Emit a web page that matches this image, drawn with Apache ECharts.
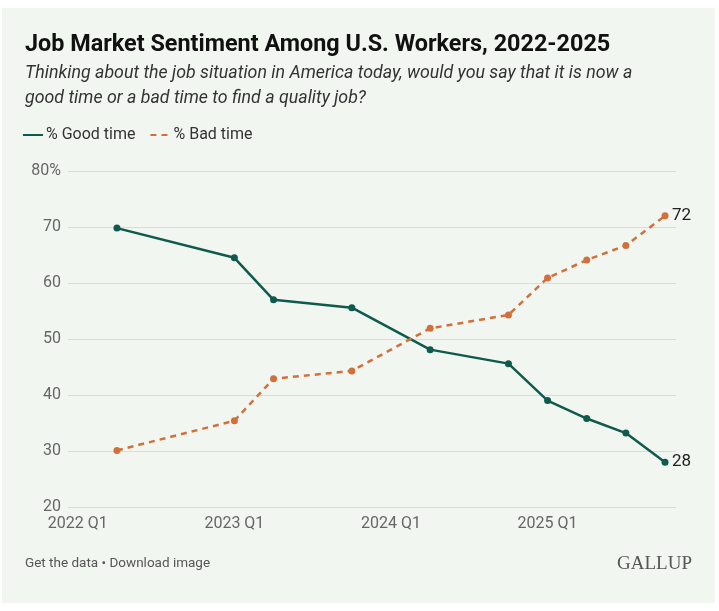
<!DOCTYPE html>
<html>
<head>
<meta charset="utf-8">
<script src="https://cdn.jsdelivr.net/npm/echarts@6/dist/echarts.min.js"></script>
<style>
html,body{margin:0;padding:0;background:#fff;}
#chart{width:719px;height:611px;}
</style>
</head>
<body>
<div id="chart"></div>
<script>
// Quarter labels for the survey points
var quarters = ["2022 Q2","2023 Q1","2023 Q2","2023 Q4","2024 Q2","2024 Q4","2025 Q1","2025 Q2","2025 Q3","2025 Q4"];
var goodTime = [69.8, 64.5, 57.0, 55.6, 48.1, 45.6, 39.0, 35.8, 33.2, 28];
var badTime  = [30.1, 35.4, 42.9, 44.3, 51.9, 54.3, 60.9, 64.1, 66.7, 72];
var xTickLabels = ["2022 Q1","2023 Q1","2024 Q1","2025 Q1"];
var yTicks = [20, 30, 40, 50, 60, 70, 80];

function qIndex(label){
  var p = label.split(" Q");
  return (parseInt(p[0],10) - 2022) * 4 + (parseInt(p[1],10) - 1);
}
var xTickValues = xTickLabels.map(qIndex);
function qLabel(v){
  var y = 2022 + Math.floor(v/4);
  var q = (v % 4) + 1;
  return y + " Q" + q;
}
function pairs(vals){
  return vals.map(function(v,i){ return [qIndex(quarters[i]), v]; });
}

var FONT = "Roboto";
var chart = echarts.init(document.getElementById('chart'));
chart.setOption({
  backgroundColor: '#ffffff',
  animation: false,
  textStyle: { fontFamily: FONT },
  graphic: [{
    type: 'rect', z: -10, silent: true,
    shape: { x: 2, y: 8, width: 713, height: 595 },
    style: { fill: '#f1f7f0' }
  }],
  title: [
    { text: 'Job Market Sentiment Among U.S. Workers, 2022-2025', left: 25, top: 34, padding: 0,
      textStyle: { fontFamily: FONT, fontSize: 23.4, fontWeight: 'bold', color: '#111' } },
    { text: 'Thinking about the job situation in America today, would you say that it is now a\ngood time or a bad time to find a quality job?', left: 25, top: 61, padding: 0,
      textStyle: { fontFamily: FONT, fontSize: 17.8, fontStyle: 'italic', fontWeight: 'normal', color: '#333', lineHeight: 25 } },
    { text: 'Get the data \u2022 Download image', left: 25, top: 557, padding: 0,
      textStyle: { fontFamily: FONT, fontSize: 13.5, fontWeight: 'normal', color: '#555' } },
    { text: 'GALLUP', right: 27, top: 555, padding: 0,
      textStyle: { fontFamily: 'Liberation Serif', fontSize: 19, fontWeight: 'normal', color: '#555' } }
  ],
  legend: {
    left: 17, top: 122,
    itemWidth: 20, itemHeight: 10, itemGap: 14,
    itemStyle: { opacity: 0 },
    textStyle: { fontFamily: FONT, fontSize: 16, color: '#333', padding: [0,0,0,-2] },
    data: ['% Good time', '% Bad time']
  },
  grid: { left: 68, right: 43, top: 171, bottom: 104, containLabel: false },
  xAxis: {
    type: 'value', min: -0.25, max: 15.28,
    axisLine: { show: false }, axisTick: { show: false }, splitLine: { show: false },
    axisLabel: {
      customValues: xTickValues,
      formatter: function(v){ return qLabel(v); },
      fontFamily: FONT, fontSize: 16, color: '#666', margin: 9
    }
  },
  yAxis: {
    type: 'value', min: 20, max: 80, interval: 10,
    axisLine: { show: false }, axisTick: { show: false },
    splitLine: { lineStyle: { color: '#d8ddd8', width: 1 } },
    axisLabel: {
      formatter: function(v){ return v === 80 ? v + '%' : String(v); },
      fontFamily: FONT, fontSize: 16, color: '#666', margin: 7
    }
  },
  series: [
    { name: '% Good time', type: 'line', data: pairs(goodTime),
      symbol: 'circle', symbolSize: 7,
      lineStyle: { color: '#0e5a4c', width: 2.5 },
      itemStyle: { color: '#0e5a4c' },
      endLabel: { show: true, formatter: function(p){ return Math.round(p.value[1]); },
        fontFamily: FONT, fontSize: 17, color: '#222', distance: 7 } },
    { name: '% Bad time', type: 'line', data: pairs(badTime),
      symbol: 'circle', symbolSize: 7,
      lineStyle: { color: '#d2703c', width: 2.5, type: [6,5] },
      itemStyle: { color: '#d2703c' },
      endLabel: { show: true, formatter: function(p){ return Math.round(p.value[1]); },
        fontFamily: FONT, fontSize: 17, color: '#222', distance: 7 } }
  ]
});
</script>
</body>
</html>
